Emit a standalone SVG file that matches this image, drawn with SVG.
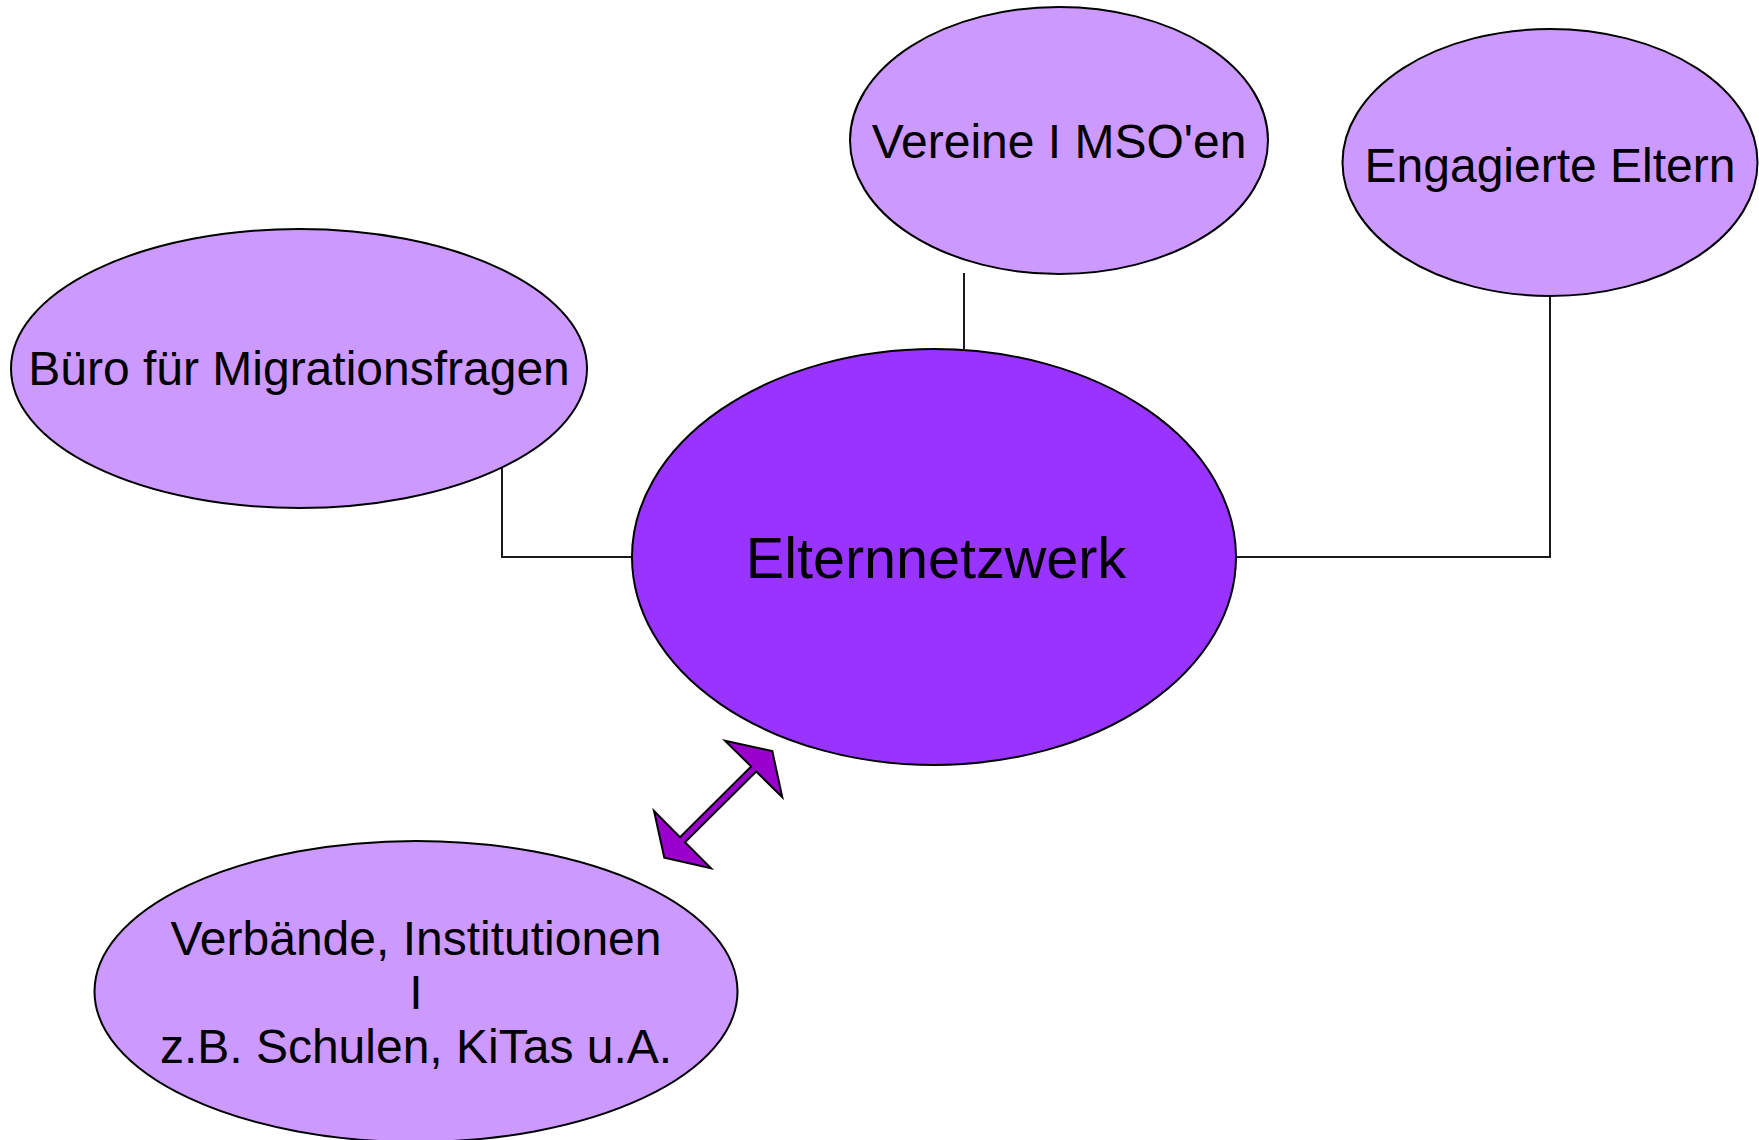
<svg xmlns="http://www.w3.org/2000/svg" width="1759" height="1140" viewBox="0 0 1759 1140">
<style>
.n{fill:#CC99FF;stroke:#000;stroke-width:2}
.c{fill:#9933FF;stroke:#000;stroke-width:2}
.t{font-family:"Liberation Sans",Arial,sans-serif;font-size:48px;fill:#000;text-anchor:middle}
.ln{fill:none;stroke:#1a1a1a;stroke-width:2}
.ar{fill:#9900CC;stroke:#000;stroke-width:2;stroke-linejoin:miter}
</style>
<rect width="1759" height="1140" fill="#fff"/>
<g id="connectors">
<polyline class="ln" points="964,273 964,349"/>
<polyline class="ln" points="502,467 502,557 632,557"/>
<polyline class="ln" points="1236,557 1550,557 1550,296"/>
<polygon class="ar" points="772.3,751 782.3,797.3 756.2,771.5 685,842.2 711,868.3 664.3,857.7 654,811 680,837.2 751.2,766.5 725,740.7"/>
</g>
<g id="vereine">
<ellipse class="n" cx="1059" cy="140.5" rx="209" ry="133.5"/>
<text class="t" x="1059" y="158">Vereine I MSO'en</text>
</g>
<g id="engagierte">
<ellipse class="n" cx="1550" cy="162.5" rx="207.5" ry="133.5"/>
<text class="t" x="1550" y="182">Engagierte Eltern</text>
</g>
<g id="buero">
<ellipse class="n" cx="299" cy="368.5" rx="288" ry="139.5"/>
<text class="t" x="299" y="385">Büro für Migrationsfragen</text>
</g>
<g id="elternnetzwerk">
<ellipse class="c" cx="934" cy="557" rx="302" ry="208"/>
<text class="t" x="936" y="578" style="font-size:57.5px">Elternnetzwerk</text>
</g>
<g id="verbaende">
<ellipse class="n" cx="416" cy="991.5" rx="321.5" ry="150.5"/>
<text class="t" x="416" y="955">Verbände, Institutionen</text>
<text class="t" x="416" y="1009">I</text>
<text class="t" x="416" y="1063">z.B. Schulen, KiTas u.A.</text>
</g>
</svg>
